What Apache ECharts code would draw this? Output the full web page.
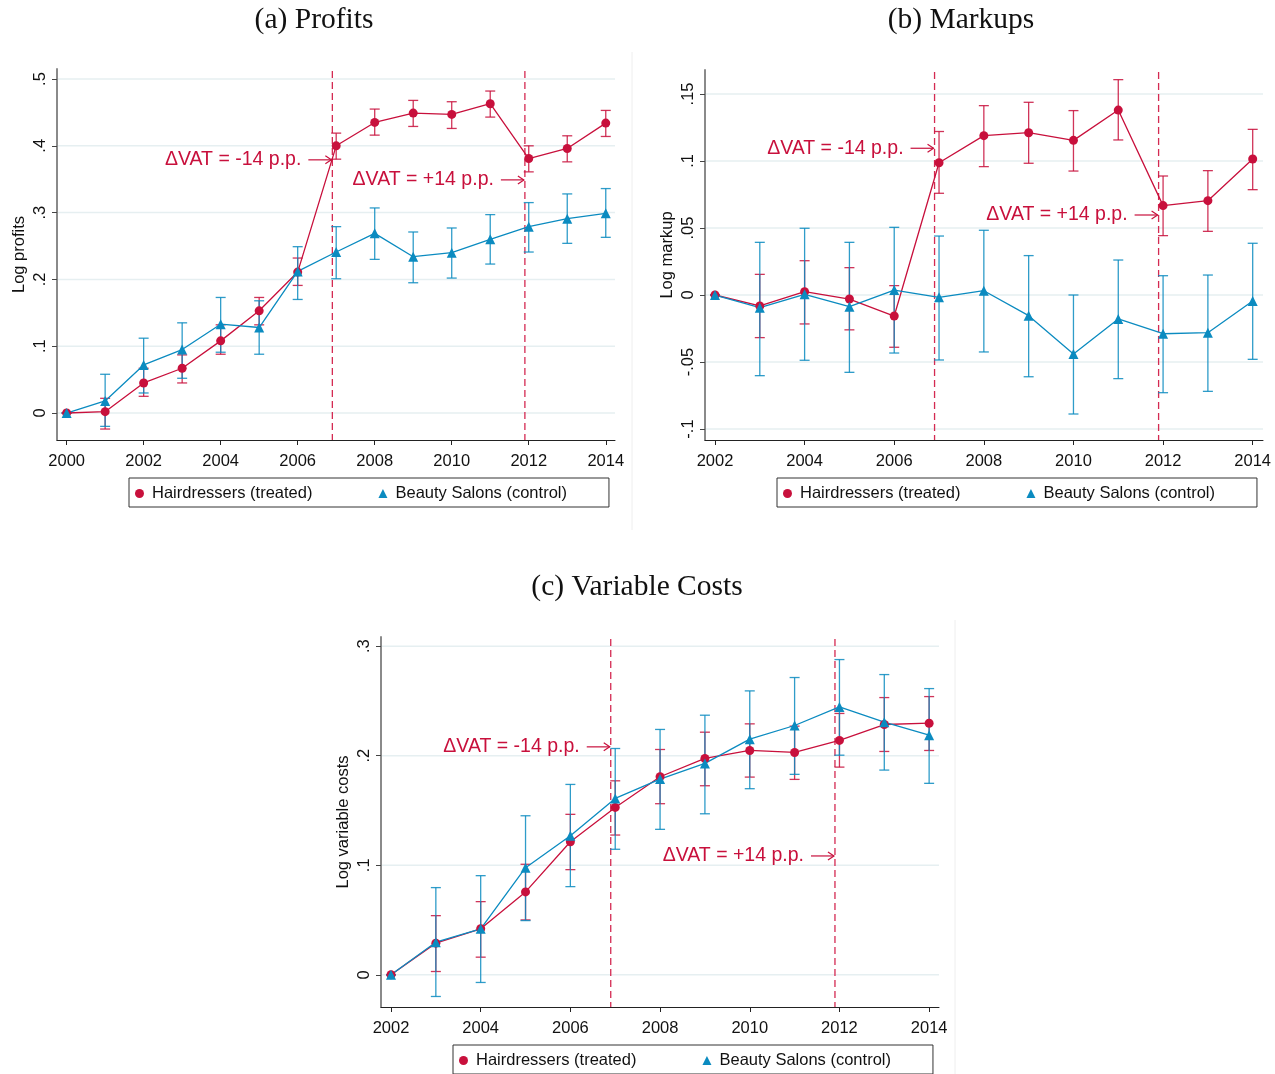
<!DOCTYPE html>
<html>
<head>
<meta charset="utf-8">
<script src="https://cdn.jsdelivr.net/npm/echarts@6/dist/echarts.min.js"></script>
<style>
  html, body { margin: 0; padding: 0; background: #ffffff; }
  #chart { width: 1275px; height: 1074px; }
</style>
</head>
<body>
<div id="chart"></div>
<script>
// ---- Data: event-study coefficients with 95% confidence bounds ----
const yearsProfit = [2000, 2001, 2002, 2003, 2004, 2005, 2006, 2007, 2008, 2009, 2010, 2011, 2012, 2013, 2014];
const profitHair   = [0, 0.002, 0.045, 0.067, 0.108, 0.153, 0.211, 0.400, 0.435, 0.449, 0.447, 0.463, 0.381, 0.396, 0.434];
const profitHairLo = [0, -0.024, 0.025, 0.045, 0.088, 0.132, 0.191, 0.380, 0.416, 0.429, 0.426, 0.443, 0.361, 0.376, 0.414];
const profitHairHi = [0, 0.022, 0.067, 0.087, 0.132, 0.173, 0.232, 0.419, 0.455, 0.468, 0.466, 0.482, 0.400, 0.415, 0.453];
const profitSalon   = [0, 0.018, 0.072, 0.095, 0.133, 0.128, 0.212, 0.241, 0.269, 0.234, 0.240, 0.260, 0.279, 0.291, 0.299];
const profitSalonLo = [0, -0.020, 0.030, 0.052, 0.091, 0.088, 0.170, 0.201, 0.230, 0.195, 0.202, 0.223, 0.241, 0.254, 0.263];
const profitSalonHi = [0, 0.058, 0.112, 0.135, 0.173, 0.168, 0.249, 0.279, 0.307, 0.271, 0.277, 0.297, 0.315, 0.328, 0.336];

const yearsShort = [2002, 2003, 2004, 2005, 2006, 2007, 2008, 2009, 2010, 2011, 2012, 2013, 2014];
const markupHair   = [0, -0.0082, 0.0025, -0.0030, -0.0157, 0.0987, 0.1189, 0.1211, 0.1154, 0.1380, 0.0667, 0.0704, 0.1015];
const markupHairLo = [0, -0.0318, -0.0216, -0.0260, -0.0390, 0.0759, 0.0958, 0.0983, 0.0925, 0.1157, 0.0443, 0.0475, 0.0786];
const markupHairHi = [0, 0.0154, 0.0256, 0.0204, 0.0070, 0.1220, 0.1413, 0.1438, 0.1376, 0.1607, 0.0888, 0.0928, 0.1236];
const markupSalon   = [0, -0.0095, 0.0005, -0.0087, 0.0037, -0.0017, 0.0032, -0.0154, -0.0440, -0.0179, -0.0289, -0.0281, -0.0045];
const markupSalonLo = [0, -0.0602, -0.0487, -0.0577, -0.0433, -0.0485, -0.0425, -0.0610, -0.0888, -0.0624, -0.0729, -0.0719, -0.0480];
const markupSalonHi = [0, 0.0393, 0.0498, 0.0393, 0.0505, 0.0440, 0.0483, 0.0294, 0.0000, 0.0261, 0.0144, 0.0149, 0.0386];

const costHair   = [0, 0.0289, 0.0420, 0.0757, 0.1215, 0.1528, 0.1808, 0.1975, 0.2048, 0.2030, 0.2140, 0.2285, 0.2297];
const costHairLo = [0, 0.0030, 0.0161, 0.0501, 0.0960, 0.1276, 0.1562, 0.1726, 0.1805, 0.1784, 0.1896, 0.2039, 0.2048];
const costHairHi = [0, 0.0540, 0.0668, 0.1009, 0.1465, 0.1771, 0.2057, 0.2215, 0.2291, 0.2270, 0.2386, 0.2531, 0.2540];
const costSalon   = [0, 0.0298, 0.0420, 0.0978, 0.1270, 0.1610, 0.1787, 0.1930, 0.2151, 0.2276, 0.2446, 0.2306, 0.2188];
const costSalonLo = [0, -0.0198, -0.0070, 0.0495, 0.0805, 0.1146, 0.1328, 0.1470, 0.1699, 0.1830, 0.2005, 0.1869, 0.1748];
const costSalonHi = [0, 0.0796, 0.0905, 0.1452, 0.1738, 0.2066, 0.2240, 0.2370, 0.2592, 0.2714, 0.2878, 0.2741, 0.2613];

// VAT reform dates (drawn just before the reform year) and their labels
const eventYears = [2006.9, 2011.9];
const eventTexts = ['\u0394VAT = -14 p.p.', '\u0394VAT = +14 p.p.'];
const annotLevelsProfit = [0.379, 0.349];
const annotLevelsMarkup = [0.1095, 0.0597];
const annotLevelsCost   = [0.2081, 0.1085];

// Axis ticks
const yearTicksProfit = [2000, 2002, 2004, 2006, 2008, 2010, 2012, 2014];
const yearTicksShort  = [2002, 2004, 2006, 2008, 2010, 2012, 2014];
const profitTicks  = [0, 0.1, 0.2, 0.3, 0.4, 0.5];
const profitLabels = ['0', '.1', '.2', '.3', '.4', '.5'];
const markupTicks  = [-0.1, -0.05, 0, 0.05, 0.1, 0.15];
const markupLabels = ['-.1', '-.05', '0', '.05', '.1', '.15'];
const costTicks  = [0, 0.1, 0.2, 0.3];
const costLabels = ['0', '.1', '.2', '.3'];

const NAME_HAIR = 'Hairdressers (treated)';
const NAME_SALON = 'Beauty Salons (control)';

// ---- Styling ----
const RED = '#c8103c';
const BLUE = '#0b8bc0';
const SANS = '"Liberation Sans", Arial, sans-serif';
const SERIF = '"Liberation Serif", "DejaVu Serif", serif';
const TICK_FONT = 16.5;

function pairs(xs, ys) { return xs.map((x, i) => [x, ys[i]]); }

function labelLookup(ticks, labels) {
  return function (v) {
    for (let i = 0; i < ticks.length; i++) {
      if (Math.abs(ticks[i] - v) < 1e-9) return labels[i];
    }
    return '';
  };
}

function makeX(gridIndex, min, max, ticks) {
  return {
    type: 'value', gridIndex, min, max,
    axisLine: { show: true, onZero: false, lineStyle: { color: '#222', width: 1 } },
    axisTick: { show: true, customValues: ticks, length: 5, lineStyle: { color: '#222', width: 1 } },
    axisLabel: {
      customValues: ticks, margin: 13, color: '#111', fontSize: TICK_FONT, fontFamily: SANS,
      formatter: v => String(Math.round(v))
    },
    splitLine: { show: false }
  };
}

function makeY(gridIndex, min, max, ticks, labels, name) {
  return {
    type: 'value', gridIndex, min, max,
    name, nameLocation: 'middle', nameGap: 29, nameRotate: 90,
    nameTextStyle: { color: '#111', fontSize: TICK_FONT, fontFamily: SANS },
    axisLine: { show: true, onZero: false, lineStyle: { color: '#8a8a8a', width: 2 } },
    axisTick: { show: true, customValues: ticks, length: 5, lineStyle: { color: '#444', width: 1 } },
    axisLabel: {
      customValues: ticks, rotate: 90, margin: 8, color: '#111', fontSize: TICK_FONT, fontFamily: SANS,
      formatter: labelLookup(ticks, labels)
    },
    splitLine: { show: false }
  };
}

// Horizontal reference lines at the y ticks
function gridLineSeries(idx, ticks, xRef) {
  return {
    type: 'custom', name: 'grid' + idx, xAxisIndex: idx, yAxisIndex: idx, z: 0, silent: true,
    data: ticks.map(v => [xRef, v]),
    renderItem(params, api) {
      const cs = params.coordSys;
      const y = api.coord([api.value(0), api.value(1)])[1];
      return {
        type: 'line',
        shape: { x1: cs.x + 1, y1: y, x2: cs.x + cs.width, y2: y },
        style: { stroke: '#e6eff1', lineWidth: 1.5 }
      };
    }
  };
}

// Dashed verticals marking the VAT reforms
function eventLineSeries(idx, yRef) {
  return {
    type: 'custom', name: 'event' + idx, xAxisIndex: idx, yAxisIndex: idx, z: 1, silent: true,
    data: eventYears.map(x => [x, yRef]),
    renderItem(params, api) {
      const cs = params.coordSys;
      const x = api.coord([api.value(0), api.value(1)])[0];
      return {
        type: 'line',
        shape: { x1: x, y1: cs.y + 2, x2: x, y2: cs.y + cs.height },
        style: { stroke: '#d42a52', lineWidth: 1.3, lineDash: [7, 4] }
      };
    }
  };
}

// Labels with an arrow pointing at each reform line
function annotationSeries(idx, levels) {
  return {
    type: 'custom', name: 'annot' + idx, xAxisIndex: idx, yAxisIndex: idx, z: 5, silent: true,
    data: eventYears.map((x, i) => [x, levels[i]]),
    renderItem(params, api) {
      const p = api.coord([api.value(0), api.value(1)]);
      const tx = p[0], ty = p[1];
      return {
        type: 'group',
        children: [
          {
            type: 'text', x: tx - 31, y: ty,
            style: {
              text: eventTexts[params.dataIndex], fill: RED,
              font: '19.5px ' + SANS, align: 'right', verticalAlign: 'middle'
            }
          },
          { type: 'line', shape: { x1: tx - 24, y1: ty, x2: tx - 1, y2: ty }, style: { stroke: RED, lineWidth: 1.2 } },
          { type: 'polyline', shape: { points: [[tx - 7, ty - 4], [tx - 1, ty], [tx - 7, ty + 4]] }, style: { stroke: RED, lineWidth: 1.2, fill: null } }
        ]
      };
    }
  };
}

// Confidence-interval whiskers with caps
function ciSeries(idx, name, years, lo, hi, color) {
  return {
    type: 'custom', name, xAxisIndex: idx, yAxisIndex: idx, z: 2, silent: true,
    data: years.map((x, i) => [x, lo[i], hi[i]]),
    encode: { x: 0, y: [1, 2] },
    renderItem(params, api) {
      const x = api.value(0);
      const a = api.coord([x, api.value(1)]);
      const b = api.coord([x, api.value(2)]);
      const w = 5;
      const st = { stroke: color, lineWidth: 1.3, opacity: 0.85 };
      return {
        type: 'group',
        children: [
          { type: 'line', shape: { x1: a[0], y1: a[1], x2: b[0], y2: b[1] }, style: st },
          { type: 'line', shape: { x1: a[0] - w, y1: a[1], x2: a[0] + w, y2: a[1] }, style: st },
          { type: 'line', shape: { x1: b[0] - w, y1: b[1], x2: b[0] + w, y2: b[1] }, style: st }
        ]
      };
    }
  };
}

function pointSeries(idx, name, years, vals, color, symbol, size) {
  return {
    type: 'line', name, xAxisIndex: idx, yAxisIndex: idx, z: 3,
    data: pairs(years, vals),
    symbol, symbolSize: size, showSymbol: true,
    lineStyle: { color, width: 1.3 },
    itemStyle: { color },
    emphasis: { disabled: true },
    animation: false
  };
}

function panelSeries(idx, years, hair, hairLo, hairHi, salon, salonLo, salonHi, ticks, levels) {
  return [
    gridLineSeries(idx, ticks, years[0]),
    eventLineSeries(idx, ticks[0]),
    ciSeries(idx, 'ci-hair-' + idx, years, hairLo, hairHi, RED),
    pointSeries(idx, NAME_HAIR, years, hair, RED, 'circle', 9),
    ciSeries(idx, 'ci-salon-' + idx, years, salonLo, salonHi, BLUE),
    pointSeries(idx, NAME_SALON, years, salon, BLUE, 'triangle', 10),
    annotationSeries(idx, levels)
  ];
}

function makeLegend(left, top) {
  return {
    left, top, orient: 'horizontal', selectedMode: false,
    data: [{ name: NAME_HAIR, icon: 'circle' }, { name: NAME_SALON, icon: 'triangle' }],
    itemWidth: 9, itemHeight: 9, itemGap: 66,
    padding: [7, 42, 5, 6],
    borderColor: '#333', borderWidth: 1, borderRadius: 0,
    textStyle: { color: '#111', fontSize: TICK_FONT, fontFamily: SANS, padding: [0, 0, 0, 3] }
  };
}

function makeTitle(text, cx, top) {
  return {
    text, left: cx, top, textAlign: 'center',
    textStyle: { fontFamily: SERIF, fontSize: 29.5, fontWeight: 'normal', color: '#111' }
  };
}

const option = {
  animation: false,
  backgroundColor: '#ffffff',
  title: [
    makeTitle('(a) Profits', 309, 0),
    makeTitle('(b) Markups', 956, 0),
    makeTitle('(c) Variable Costs', 632, 567)
  ],
  legend: [makeLegend(129, 478), makeLegend(777, 478), makeLegend(453, 1045)],
  grid: [
    { left: 57, top: 69, width: 558, height: 371, outerBoundsMode: 'none' },
    { left: 705, top: 70, width: 558, height: 370, outerBoundsMode: 'none' },
    { left: 381, top: 637, width: 558, height: 370, outerBoundsMode: 'none' }
  ],
  xAxis: [
    makeX(0, 1999.75, 2014.24, yearTicksProfit),
    makeX(1, 2001.777, 2014.23, yearTicksShort),
    makeX(2, 2001.777, 2014.22, yearTicksShort)
  ],
  yAxis: [
    makeY(0, -0.0404, 0.515, profitTicks, profitLabels, 'Log profits'),
    makeY(1, -0.1082, 0.1679, markupTicks, markupLabels, 'Log markup'),
    makeY(2, -0.0294, 0.3084, costTicks, costLabels, 'Log variable costs')
  ],
  graphic: [
    { type: 'line', shape: { x1: 632, y1: 52, x2: 632, y2: 530 }, style: { stroke: '#eeeeee', lineWidth: 1 } },
    { type: 'line', shape: { x1: 955, y1: 620, x2: 955, y2: 1074 }, style: { stroke: '#eeeeee', lineWidth: 1 } }
  ],
  series: [].concat(
    panelSeries(0, yearsProfit, profitHair, profitHairLo, profitHairHi, profitSalon, profitSalonLo, profitSalonHi, profitTicks, annotLevelsProfit),
    panelSeries(1, yearsShort, markupHair, markupHairLo, markupHairHi, markupSalon, markupSalonLo, markupSalonHi, markupTicks, annotLevelsMarkup),
    panelSeries(2, yearsShort, costHair, costHairLo, costHairHi, costSalon, costSalonLo, costSalonHi, costTicks, annotLevelsCost)
  )
};

const chart = echarts.init(document.getElementById('chart'), null, { renderer: 'canvas' });
chart.setOption(option);
</script>
</body>
</html>
